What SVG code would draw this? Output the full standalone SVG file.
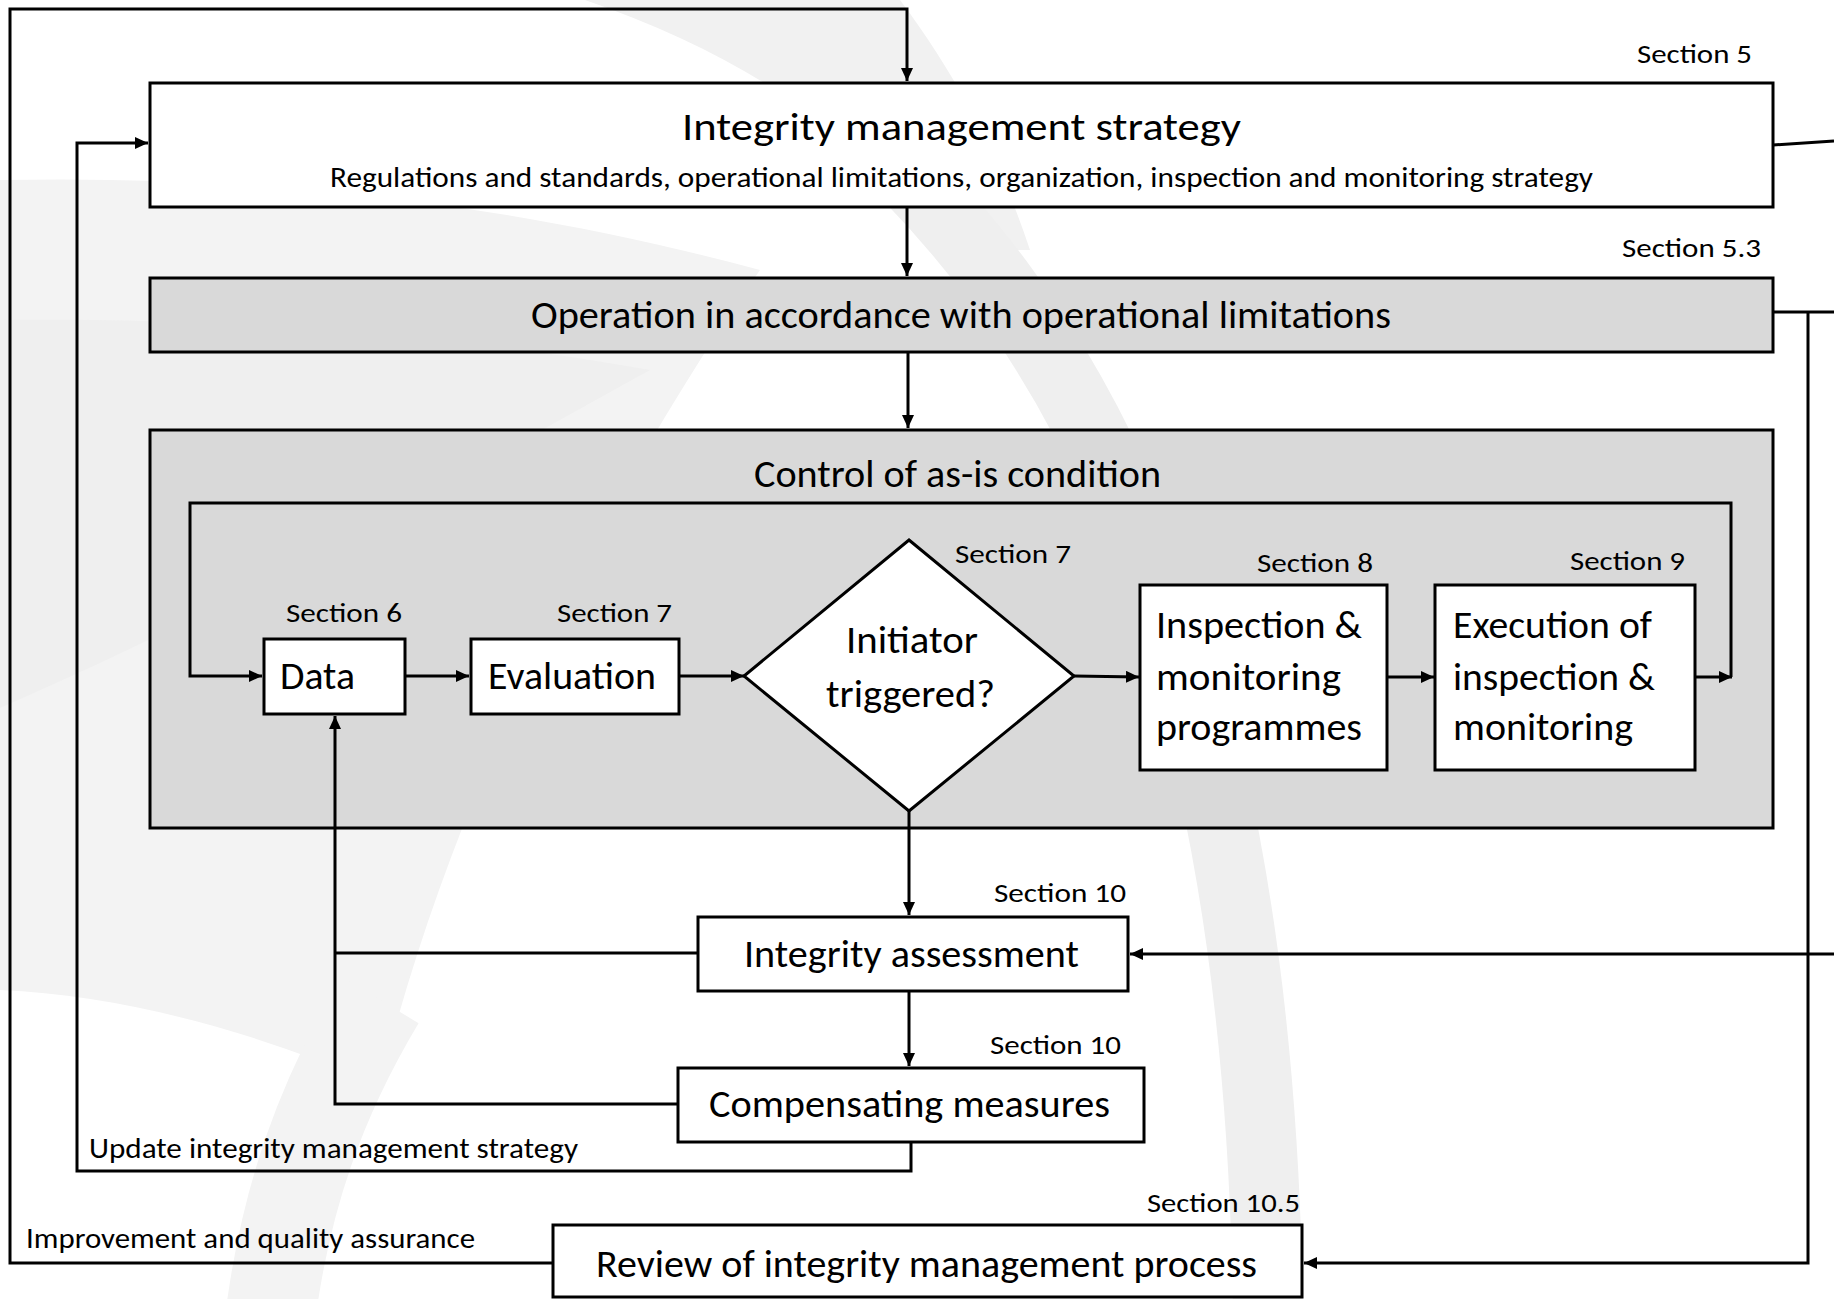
<svg xmlns="http://www.w3.org/2000/svg" width="1834" height="1299" viewBox="0 0 1834 1299">
<style>
  .box { stroke: #000; stroke-width: 3; }
  .w { fill: #ffffff; }
  .g { fill: #d9d9d9; }
  .conn { fill: none; stroke: #000; stroke-width: 3; }
  text { font-family: Carlito, Lato, "Liberation Sans", sans-serif; fill: #000; }
  .big { font-size: 38px; }
  .mid { font-size: 29px; }
  .sec { font-size: 27px; }
</style>
<defs>
  <marker id="ah" markerUnits="userSpaceOnUse" markerWidth="14" markerHeight="12" refX="13" refY="6" orient="auto">
    <path d="M0,0 L13,6 L0,12 z" fill="#000"/>
  </marker>
</defs>
<rect x="0" y="0" width="1834" height="1299" fill="#ffffff"/>
<g id="watermark">
  <path d="M 0 180 C 250 175, 500 200, 760 270 C 600 500, 450 800, 380 1085 C 250 1030, 120 995, 0 990 Z" fill="#f3f3f3"/>
  <path d="M 0 320 C 250 318, 450 335, 650 370 C 450 480, 250 600, 0 708 Z" fill="#efefef"/>
  <path d="M 585 0 L 900 0 C 960 80, 1000 160, 1030 250 L 930 250 C 880 150, 760 60, 585 0 Z" fill="#f1f1f1"/>
  <path d="M 850 120 C 1050 300, 1260 600, 1268 1320" fill="none" stroke="#efefef" stroke-width="70"/>
  <path d="M 270 1320 C 285 1200, 320 1100, 380 1000" fill="none" stroke="#f3f3f3" stroke-width="90"/>
</g>

<g id="n-strategy">
  <rect class="box w" x="150" y="83" width="1623" height="124"/>
  <text class="big" x="682" y="140" textLength="559" lengthAdjust="spacingAndGlyphs">Integrity management strategy</text>
  <text class="mid" x="330" y="187" textLength="1263" lengthAdjust="spacingAndGlyphs">Regulations and standards, operational limitations, organization, inspection and monitoring strategy</text>
  <text class="sec" x="1637" y="63" textLength="115" lengthAdjust="spacingAndGlyphs">Section 5</text>
</g>

<g id="n-operation">
  <rect class="box g" x="150" y="278" width="1623" height="74"/>
  <text class="big" x="531" y="328" textLength="860" lengthAdjust="spacingAndGlyphs">Operation in accordance with operational limitations</text>
  <text class="sec" x="1622" y="257" textLength="139" lengthAdjust="spacingAndGlyphs">Section 5.3</text>
</g>

<g id="n-control">
  <rect class="box g" x="150" y="430" width="1623" height="398"/>
  <text class="big" x="754" y="487" textLength="407" lengthAdjust="spacingAndGlyphs">Control of as-is condition</text>
</g>

<g id="connectors">
  <polyline class="conn" points="553,1263 10,1263 10,9 907,9 907,81" marker-end="url(#ah)"/>
  <line class="conn" x1="907" y1="207" x2="907" y2="276" marker-end="url(#ah)"/>
  <line class="conn" x1="908" y1="352" x2="908" y2="428" marker-end="url(#ah)"/>
  <line class="conn" x1="1773" y1="145" x2="1834" y2="141"/>
  <polyline class="conn" points="1773,312 1834,312"/>
  <polyline class="conn" points="1808,312 1808,1263 1304,1263" marker-end="url(#ah)"/>
  <line class="conn" x1="1834" y1="954" x2="1130" y2="954" marker-end="url(#ah)"/>
  <polyline class="conn" points="1731,677 1731,503 190,503 190,676 262,676" marker-end="url(#ah)"/>
  <line class="conn" x1="1695" y1="677" x2="1732" y2="677" marker-end="url(#ah)"/>
  <line class="conn" x1="405" y1="676" x2="469" y2="676" marker-end="url(#ah)"/>
  <line class="conn" x1="679" y1="676" x2="744" y2="676" marker-end="url(#ah)"/>
  <line class="conn" x1="1074" y1="676" x2="1139" y2="677" marker-end="url(#ah)"/>
  <line class="conn" x1="1387" y1="677" x2="1434" y2="677" marker-end="url(#ah)"/>
  <line class="conn" x1="909" y1="811" x2="909" y2="915" marker-end="url(#ah)"/>
  <line class="conn" x1="909" y1="991" x2="909" y2="1066" marker-end="url(#ah)"/>
  <line class="conn" x1="698" y1="953" x2="335" y2="953"/>
  <polyline class="conn" points="678,1104 335,1104 335,716" marker-end="url(#ah)"/>
  <polyline class="conn" points="911,1142 911,1171 77,1171 77,143 148,143" marker-end="url(#ah)"/>
</g>

<g id="n-data">
  <rect class="box w" x="264" y="639" width="141" height="75"/>
  <text class="big" x="280" y="689" textLength="75" lengthAdjust="spacingAndGlyphs">Data</text>
  <text class="sec" x="286" y="622" textLength="116" lengthAdjust="spacingAndGlyphs">Section 6</text>
</g>

<g id="n-evaluation">
  <rect class="box w" x="471" y="639" width="208" height="75"/>
  <text class="big" x="488" y="689" textLength="168" lengthAdjust="spacingAndGlyphs">Evaluation</text>
  <text class="sec" x="557" y="622" textLength="115" lengthAdjust="spacingAndGlyphs">Section 7</text>
</g>

<g id="n-initiator">
  <polygon class="box w" points="909,540 1074,676 909,811 744,676"/>
  <text class="big" x="846" y="653" textLength="132" lengthAdjust="spacingAndGlyphs">Initiator</text>
  <text class="big" x="826" y="707" textLength="169" lengthAdjust="spacingAndGlyphs">triggered?</text>
  <text class="sec" x="955" y="563" textLength="116" lengthAdjust="spacingAndGlyphs">Section 7</text>
</g>

<g id="n-programmes">
  <rect class="box w" x="1140" y="585" width="247" height="185"/>
  <text class="big" x="1156" y="638" textLength="206" lengthAdjust="spacingAndGlyphs">Inspection &amp;</text>
  <text class="big" x="1156" y="690" textLength="185" lengthAdjust="spacingAndGlyphs">monitoring</text>
  <text class="big" x="1156" y="740" textLength="206" lengthAdjust="spacingAndGlyphs">programmes</text>
  <text class="sec" x="1257" y="572" textLength="116" lengthAdjust="spacingAndGlyphs">Section 8</text>
</g>

<g id="n-execution">
  <rect class="box w" x="1435" y="585" width="260" height="185"/>
  <text class="big" x="1453" y="638" textLength="199" lengthAdjust="spacingAndGlyphs">Execution of</text>
  <text class="big" x="1453" y="690" textLength="202" lengthAdjust="spacingAndGlyphs">inspection &amp;</text>
  <text class="big" x="1453" y="740" textLength="180" lengthAdjust="spacingAndGlyphs">monitoring</text>
  <text class="sec" x="1570" y="570" textLength="115" lengthAdjust="spacingAndGlyphs">Section 9</text>
</g>

<g id="n-assessment">
  <rect class="box w" x="698" y="917" width="430" height="74"/>
  <text class="big" x="744" y="967" textLength="335" lengthAdjust="spacingAndGlyphs">Integrity assessment</text>
  <text class="sec" x="994" y="902" textLength="132" lengthAdjust="spacingAndGlyphs">Section 10</text>
</g>

<g id="n-compensating">
  <rect class="box w" x="678" y="1068" width="466" height="74"/>
  <text class="big" x="709" y="1117" textLength="401" lengthAdjust="spacingAndGlyphs">Compensating measures</text>
  <text class="sec" x="990" y="1054" textLength="131" lengthAdjust="spacingAndGlyphs">Section 10</text>
</g>

<g id="n-review">
  <rect class="box w" x="553" y="1225" width="749" height="72"/>
  <text class="big" x="596" y="1277" textLength="661" lengthAdjust="spacingAndGlyphs">Review of integrity management process</text>
  <text class="sec" x="1147" y="1212" textLength="153" lengthAdjust="spacingAndGlyphs">Section 10.5</text>
</g>

<g id="labels">
  <text class="mid" x="89" y="1158" textLength="489" lengthAdjust="spacingAndGlyphs">Update integrity management strategy</text>
  <text class="mid" x="26" y="1248" textLength="449" lengthAdjust="spacingAndGlyphs">Improvement and quality assurance</text>
</g>
</svg>
